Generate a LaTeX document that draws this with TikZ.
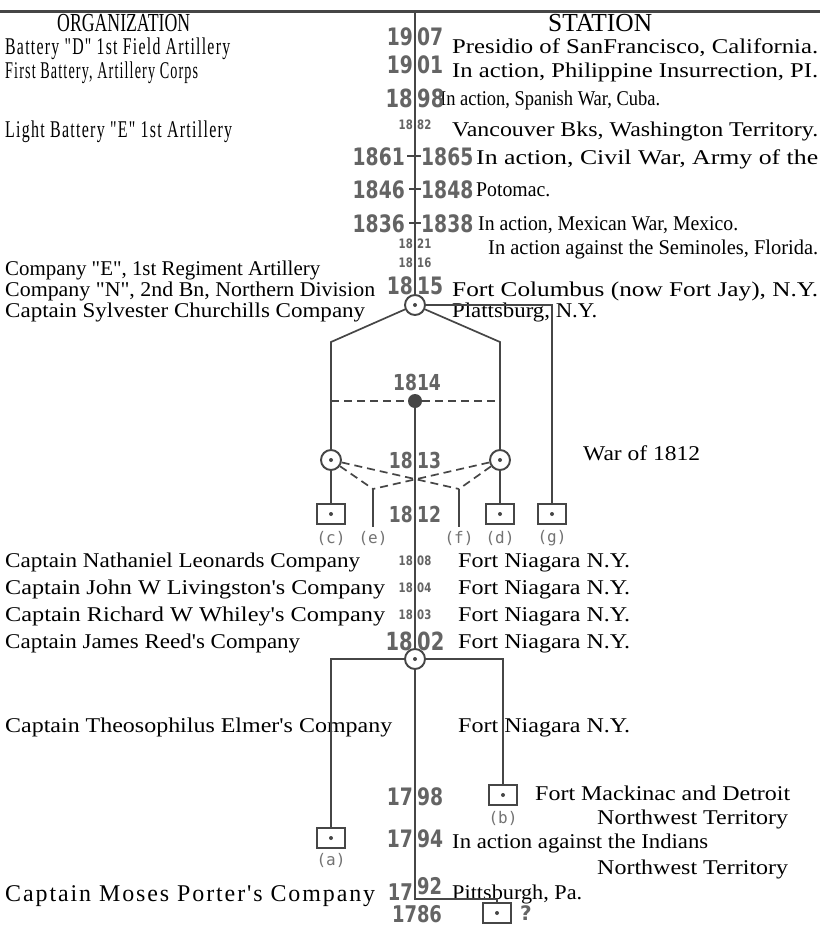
\documentclass[tikz,border=0pt]{standalone}
\usepackage{fontspec}
\usepackage{graphicx}
\setmainfont{Liberation Serif}[Ligatures=TeXOff]
\newfontfamily\lsfont{Liberation Serif}[Ligatures=TeXOff, LetterSpace=8]
\newfontfamily\yrfont{DejaVu Sans}
\newfontfamily\lblfont{DejaVu Sans Mono}
\definecolor{ln}{RGB}{70,70,70}
\definecolor{yrc}{RGB}{100,100,100}
\definecolor{lbc}{RGB}{115,115,115}
\tikzset{
  txt/.style={anchor=base west, inner sep=0pt, font=\fontsize{21}{21}\selectfont},
  stxt/.style={anchor=base west, inner sep=0pt, font=\lsfont\fontsize{24}{24}\selectfont},
  hdr/.style={anchor=base west, inner sep=0pt, font=\fontsize{26}{26}\selectfont},
  yrl/.style={anchor=base east, inner sep=0pt, text=yrc},
  yrr/.style={anchor=base west, inner sep=0pt, text=yrc},
  yrm/.style={anchor=base, inner sep=0pt, text=yrc},
  main/.style={draw=ln, line width=1.7pt},
  dsh/.style={draw=ln, line width=1.7pt, dash pattern=on 8pt off 5pt},
  ring/.style={circle, draw=ln, line width=1.9pt, minimum size=20pt, inner sep=0pt},
  sq/.style={rectangle, draw=ln, line width=1.9pt, minimum width=28pt, minimum height=20pt, inner sep=0pt},
  lbl/.style={text=lbc, inner sep=0pt, font=\lblfont\fontsize{16}{16}\selectfont},
}
% text node: name, x, baseline y, width, text
\newcommand\tx[5]{\node[txt] (#1) at (#2,#3) {\resizebox{#4pt}{\height}{#5}};}
\newcommand\txs[5]{\node[stxt] (#1) at (#2,#3) {\resizebox{#4pt}{\height}{#5}};}
% year: name, baseline, size, left, right, left x, right x
\newcommand\yr[7]{%
  \node[yrl, font=\yrfont\bfseries\fontsize{#3}{#3}\selectfont] (#1l) at (#6,#2) {\scalebox{0.78}[1]{#4}};
  \node[yrr, font=\yrfont\bfseries\fontsize{#3}{#3}\selectfont] (#1r) at (#7,#2) {\scalebox{0.78}[1]{#5}};}
\begin{document}
\begin{tikzpicture}[x=1pt,y=-1pt]
\useasboundingbox[fill=white] (0,0) rectangle (820,926);

% top rule and coordinates
\coordinate (tl) at (0,11);
\coordinate (tr) at (820,11);
\coordinate (top) at (415,11);
\draw[draw=ln, line width=3pt] (tl) -- (tr);

% headers
\node[hdr] (org) at (57,31) {\resizebox{133pt}{\height}{ORGANIZATION}};
\node[hdr] (sta) at (548,31) {\resizebox{104pt}{\height}{STATION}};

% left column
\txs{bD}{5}{54}{225}{Battery "D" 1st Field Artillery}
\txs{fb}{5}{78}{193}{First Battery, Artillery Corps}
\txs{lb}{5}{137}{227}{Light Battery "E" 1st Artillery}
\tx{coE}{5}{275}{315}{Company "E", 1st Regiment Artillery}
\tx{coN}{5}{296}{370}{Company "N", 2nd Bn, Northern Division}
\tx{sylv}{5}{317}{360}{Captain Sylvester Churchills Company}
\tx{nath}{5}{567}{355}{Captain Nathaniel Leonards Company}
\tx{liv}{5}{594}{380}{Captain John W Livingston's Company}
\tx{whil}{5}{621}{380}{Captain Richard W Whiley's Company}
\tx{reed}{5}{648}{295}{Captain James Reed's Company}
\tx{theo}{5}{732}{387}{Captain Theosophilus Elmer's Company}
\txs{moses}{5}{901}{370}{Captain Moses Porter's Company}

% right column
\tx{pres}{452}{53}{366}{Presidio of SanFrancisco, California.}
\tx{phil}{452}{77}{366}{In action, Philippine Insurrection, PI.}
\tx{span}{440}{105}{220}{In action, Spanish War, Cuba.}
\tx{vanc}{452}{136}{366}{Vancouver Bks, Washington Territory.}
\tx{civ}{476}{164}{342}{In action, Civil War, Army of the}
\tx{pot}{476}{196}{74}{Potomac.}
\tx{mex}{478}{230}{260}{In action, Mexican War, Mexico.}
\tx{sem}{488}{254}{330}{In action against the Seminoles, Florida.}
\tx{fcol}{452}{296}{366}{Fort Columbus (now Fort Jay), N.Y.}
\tx{plat}{452}{317}{145}{Plattsburg, N.Y.}
\tx{war}{583}{460}{117}{War of 1812}
\tx{fn1}{458}{567}{172}{Fort Niagara N.Y.}
\tx{fn2}{458}{594}{172}{Fort Niagara N.Y.}
\tx{fn3}{458}{621}{172}{Fort Niagara N.Y.}
\tx{fn4}{458}{648}{172}{Fort Niagara N.Y.}
\tx{fn5}{458}{732}{172}{Fort Niagara N.Y.}
\tx{mack}{535}{800}{255}{Fort Mackinac and Detroit}
\tx{nw1}{597}{824}{191}{Northwest Territory}
\tx{ind}{452}{848}{256}{In action against the Indians}
\tx{nw2}{597}{874}{191}{Northwest Territory}
\tx{pitt}{452}{899}{130}{Pittsburgh, Pa.}

% years
\yr{y1907}{45}{24}{19}{07}{413}{417}
\yr{y1901}{73}{24}{19}{01}{413}{417}
\yr{y1898}{107}{25}{18}{98}{413}{417}
\yr{y1882}{129}{13}{18}{82}{413}{417}
\yr{y1861}{165}{24}{1861}{1865}{405}{421}
\yr{y1846}{198}{24}{1846}{1848}{405}{421}
\yr{y1836}{232}{24}{1836}{1838}{405}{421}
\yr{y1821}{248}{13}{18}{21}{413}{417}
\yr{y1816}{267}{13}{18}{16}{413}{417}
\yr{y1815}{294}{24}{18}{15}{413}{417}
\node[yrm, font=\yrfont\bfseries\fontsize{22}{22}\selectfont] (y1814) at (417,390) {\scalebox{0.78}[1]{1814}};
\yr{y1813}{468}{22}{18}{13}{413}{417}
\yr{y1812}{522}{22}{18}{12}{413}{417}
\yr{y1808}{565}{13}{18}{08}{413}{417}
\yr{y1804}{592}{13}{18}{04}{413}{417}
\yr{y1803}{619}{13}{18}{03}{413}{417}
\yr{y1802}{650}{25}{18}{02}{413}{417}
\yr{y1798}{805}{24}{17}{98}{413}{417}
\yr{y1794}{847}{24}{17}{94}{413}{417}
\node[yrl, font=\yrfont\bfseries\fontsize{23}{23}\selectfont] (y1792l) at (413,900) {\scalebox{0.78}[1]{17}};
\node[yrr, font=\yrfont\bfseries\fontsize{23}{23}\selectfont] (y1792r) at (417,894) {\scalebox{0.78}[1]{92}};
\node[yrm, font=\yrfont\bfseries\fontsize{23}{23}\selectfont] (y1786) at (417,922) {\scalebox{0.78}[1]{1786}};

% year ticks
\coordinate (t61a) at (407,156); \coordinate (t61b) at (421,156);
\coordinate (t46a) at (409,189); \coordinate (t46b) at (421,189);
\coordinate (t36a) at (409,223); \coordinate (t36b) at (421,223);
\draw[main] (t61a) -- (t61b);
\draw[main] (t46a) -- (t46b);
\draw[main] (t36a) -- (t36b);

% structural nodes
\node[ring] (c1815) at (415,305) {};
\node[ring] (c13l) at (331,460) {};
\node[ring] (c13r) at (500,460) {};
\node[ring] (c1802) at (415,659) {};
\node[sq] (boxc) at (331,514) {};
\node[sq] (boxd) at (500,514) {};
\node[sq] (boxg) at (552,514) {};
\node[sq] (boxb) at (503,795) {};
\node[sq] (boxa) at (331,838) {};
\node[sq] (boxq) at (497,913) {};
\foreach \n in {c1815,c13l,c13r,c1802,boxc,boxd,boxg,boxb,boxa,boxq}
  \fill[ln] (\n.center) circle (2pt);
\coordinate (d1814) at (415,401);
\fill[ln] (d1814) circle (7pt);

\coordinate (lk) at (331,342);
\coordinate (rk) at (500,342);
\coordinate (gk) at (552,305);
\coordinate (dl) at (331,401);
\coordinate (dr) at (500,401);
\coordinate (je) at (373,489);
\coordinate (jf) at (459,489);
\coordinate (jeb) at (373,527);
\coordinate (jfb) at (459,527);
\coordinate (hl) at (331,659);
\coordinate (hr) at (503,659);
\coordinate (corner) at (415,899);
\coordinate (ck) at (497,899);

% main line
\draw[main] (top) -- (c1815);
\draw[main] (d1814) -- (c1802);
\draw[main] (c1802) -- (corner) -- (ck) -- (boxq);

% 1815 branches
\draw[main] (c1815) -- (lk) -- (c13l);
\draw[main] (c1815) -- (rk) -- (c13r);
\draw[main] (c1815) -- (gk) -- (boxg);
\draw[dsh] (dl) -- (dr);
\draw[main] (c13l) -- (boxc);
\draw[main] (c13r) -- (boxd);
\draw[dsh] (c13l) -- (je);
\draw[dsh] (c13l) -- (jf);
\draw[dsh] (c13r) -- (jf);
\draw[dsh] (c13r) -- (je);
\draw[main] (je) -- (jeb);
\draw[main] (jf) -- (jfb);

% 1802 branches
\draw[main] (c1802) -- (hl) -- (boxa);
\draw[main] (c1802) -- (hr) -- (boxb);

% labels
\node[lbl] (lc) at (331,538) {(c)};
\node[lbl] (le) at (373,538) {(e)};
\node[lbl] (lf) at (459,538) {(f)};
\node[lbl] (ld) at (500,538) {(d)};
\node[lbl] (lg) at (552,538) {(g)};
\node[lbl] (lbb) at (503,818) {(b)};
\node[lbl] (la) at (331,860) {(a)};
\node[anchor=west, inner sep=0pt, text=yrc, font=\yrfont\bfseries\fontsize{20}{20}\selectfont] (qm) at (520,913) {?};
\end{tikzpicture}
\end{document}
